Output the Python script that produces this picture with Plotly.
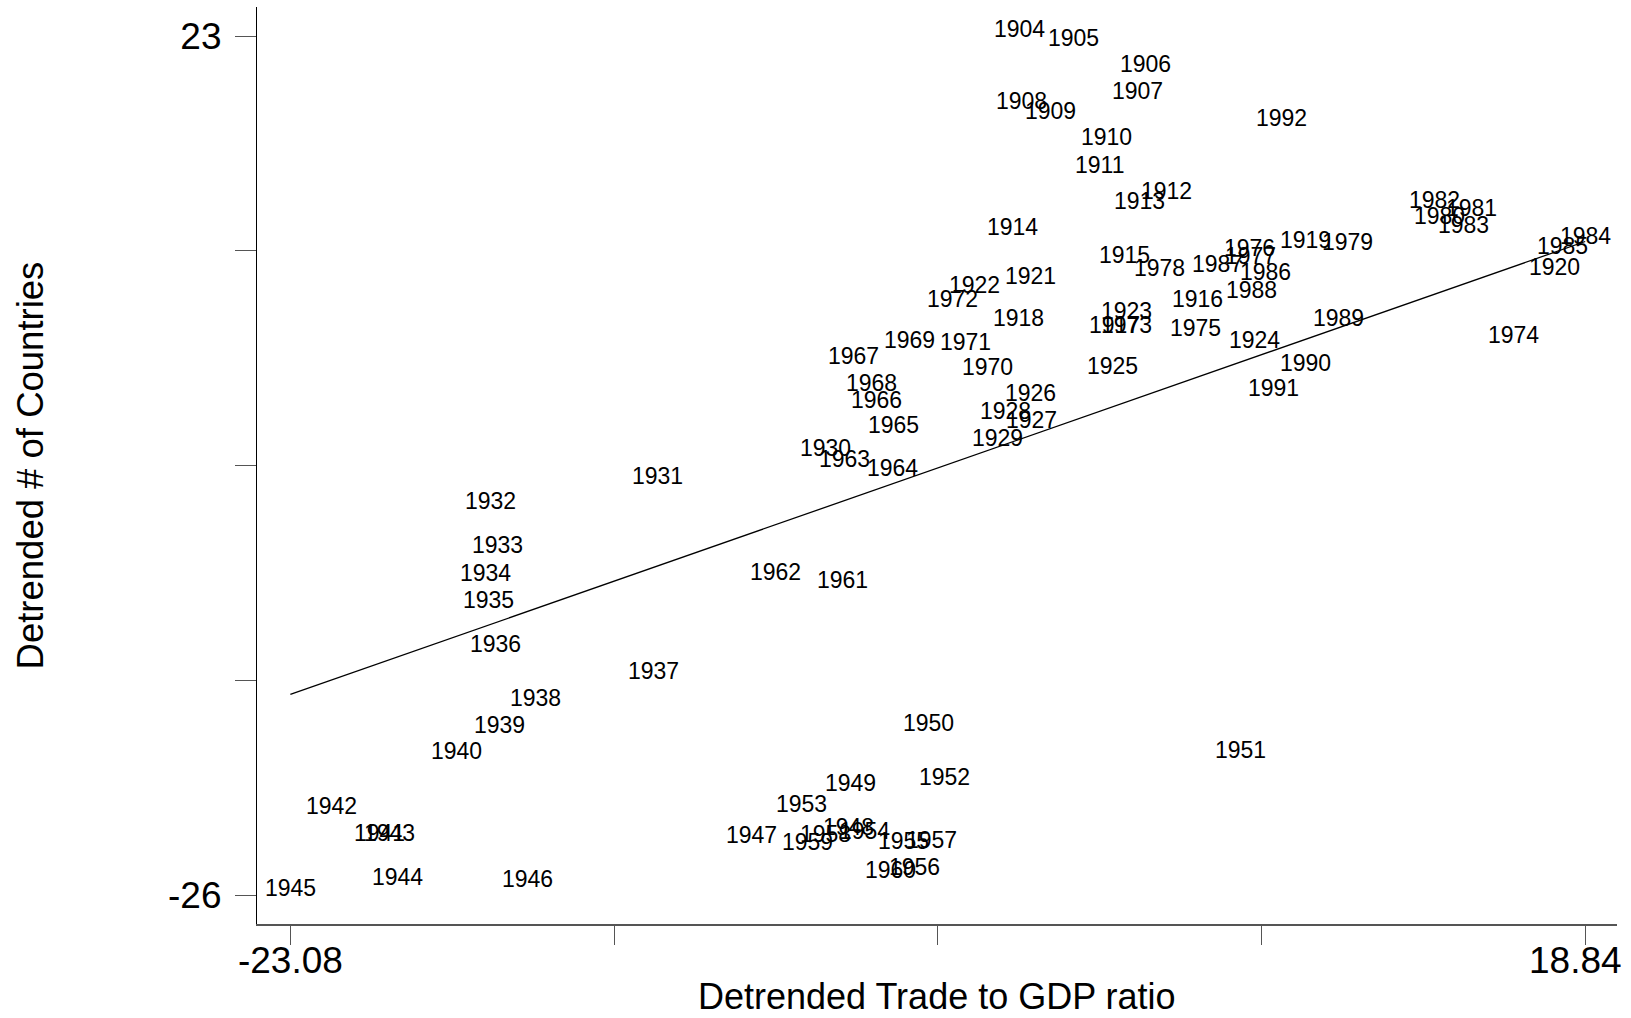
import plotly.graph_objects as go

# Year labels and the two detrended series
years = list(range(1904, 1993))

trade_gdp = [
    0.54, 2.26, 4.60, 4.36, 0.58, 1.52, 3.33, 3.10, 5.30, 4.41,      # 1904-1913
    0.29, 3.93, 6.29, 3.61, 0.48, 9.77, 17.84, 0.89, -0.94, 4.00,    # 1914-1923
    8.14, 3.53, 0.88, 0.90, 0.06, -0.18, -5.77, -11.20, -16.61, -16.37,  # 1924-1933
    -16.75, -16.66, -16.44, -11.32, -15.13, -16.32, -17.69, -20.19, -21.74, -19.86,  # 1934-1943
    -19.62, -23.08, -15.39, -8.16, -5.01, -4.93, -2.42, 7.69, -1.90, -6.52,  # 1944-1953
    -4.49, -3.23, -2.86, -2.31, -5.77, -6.33, -3.65, -5.21, -7.36, -5.14,  # 1954-1963
    -3.60, -3.55, -4.09, -4.85, -4.25, -3.04, -0.52, -1.23, -1.64, 3.98,  # 1964-1973
    16.51, 6.23, 7.97, 7.99, 5.07, 11.16, 14.11, 15.16, 13.97, 14.89,  # 1974-1983
    18.84, 18.11, 8.48, 6.95, 8.03, 10.85, 9.78, 8.74, 9.00,          # 1984-1992
]

n_countries = [
    23.00, 22.50, 21.02, 19.47, 18.91, 18.36, 16.85, 15.27, 13.75, 13.20,  # 1904-1913
    11.74, 10.12, 7.62, 6.10, 6.52, 10.98, 9.46, 8.92, 8.41, 6.92,        # 1914-1923
    5.28, 3.79, 2.27, 0.72, 1.20, -0.30, -0.89, -2.48, -3.93, -6.43,      # 1924-1933
    -8.04, -9.56, -12.08, -13.64, -15.16, -16.72, -18.18, -22.83, -21.31, -22.83,  # 1934-1943
    -25.37, -26.00, -25.46, -22.99, -22.51, -20.01, -16.59, -18.14, -19.68, -21.21,  # 1944-1953
    -22.74, -23.34, -24.78, -23.28, -22.92, -23.37, -24.95, -8.42, -7.94, -1.51,  # 1954-1963
    -2.03, 0.40, 1.86, 4.33, 2.81, 5.28, 3.73, 5.17, 7.63, 6.10,          # 1964-1973
    5.57, 5.98, 10.54, 10.07, 9.40, 10.84, 12.36, 12.80, 13.26, 11.85,    # 1974-1983
    11.22, 10.65, 9.17, 9.59, 8.13, 6.52, 3.98, 2.51, 17.93,              # 1984-1992
]

# Fitted trend line, evaluated at the ends of the x range
fit_x = [-23.08, 18.84]
fit_y = [-14.55, 11.29]

x_ticks = [-23.08, -12.6, -2.12, 8.36, 18.84]
# the right-hand end label is drawn separately so it stays inside the page
x_ticktext = ["-23.08", "", "", "", ""]
x_end_label = "18.84"
y_ticks = [-26, -13.75, -1.5, 10.75, 23]
y_ticktext = ["-26", "", "", "", "23"]

FONT = "Liberation Sans, Arial, Helvetica, sans-serif"

fig = go.Figure()

# Invisible point layer (the years are shown as labels)
fig.add_trace(go.Scatter(
    x=trade_gdp, y=n_countries, mode="markers",
    marker=dict(size=1, color="rgba(0,0,0,0)"),
    text=[str(v) for v in years], hoverinfo="text", showlegend=False,
))

fig.add_trace(go.Scatter(
    x=fit_x, y=fit_y, mode="lines",
    line=dict(color="black", width=1.3),
    hoverinfo="skip", showlegend=False,
))

# Year labels centred on each observation
for yr, xv, yv in zip(years, trade_gdp, n_countries):
    fig.add_annotation(
        x=xv, y=yv, xref="x", yref="y", text=str(yr),
        showarrow=False, xanchor="center", yanchor="middle", yshift=7,
        font=dict(family=FONT, size=23, color="black"),
    )

# Right-hand x-axis end label, nudged left of its tick
fig.add_annotation(
    x=x_ticks[-1], y=-0.0393, xref="x", yref="paper",
    text=x_end_label, showarrow=False,
    xanchor="center", yanchor="middle", xshift=-10,
    font=dict(family=FONT, size=37, color="black"),
)

# Axis titles
fig.add_annotation(
    x=0.5, y=-0.0796, xref="paper", yref="paper",
    text="Detrended Trade to GDP ratio", showarrow=False,
    xanchor="center", yanchor="middle",
    font=dict(family=FONT, size=36, color="black"),
)
fig.add_annotation(
    x=-0.1662, y=0.5, xref="paper", yref="paper",
    text="Detrended # of Countries", showarrow=False, textangle=-90,
    xanchor="center", yanchor="middle",
    font=dict(family=FONT, size=36.5, color="black"),
)

fig.update_layout(
    width=1631, height=1018,
    margin=dict(l=257, r=14, t=7, b=94, autoexpand=False),
    paper_bgcolor="white", plot_bgcolor="white",
    font=dict(family=FONT, color="black"),
    showlegend=False,
)

fig.update_xaxes(
    range=[-24.16, 19.87], automargin=False,
    tickmode="array", tickvals=x_ticks, ticktext=x_ticktext,
    ticks="outside", ticklen=19, tickwidth=1, tickcolor="#555555",
    tickfont=dict(family=FONT, size=37, color="black"),
    ticklabelstandoff=-16, ticklabeloverflow="allow",
    showline=True, linecolor="#555555", linewidth=1.5,
    showgrid=False, zeroline=False,
)

fig.update_yaxes(
    range=[-27.65, 24.67], automargin=False,
    tickmode="array", tickvals=y_ticks, ticktext=y_ticktext,
    ticks="outside", ticklen=21, tickwidth=1, tickcolor="#555555",
    tickfont=dict(family=FONT, size=37, color="black"),
    ticklabelstandoff=6,
    showline=True, linecolor="black", linewidth=1.2,
    showgrid=False, zeroline=False,
)

fig.write_html("out.html")
